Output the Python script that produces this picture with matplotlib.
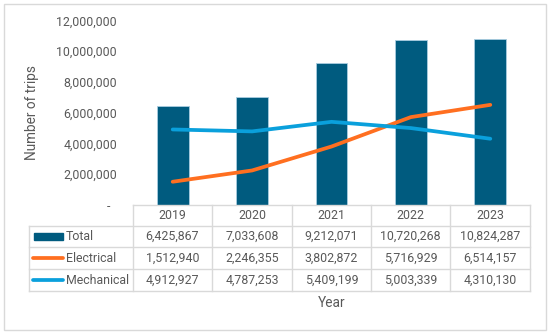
import matplotlib.pyplot as plt
from matplotlib.patches import Rectangle
from matplotlib.lines import Line2D

# --- Data ---
years = ["2019", "2020", "2021", "2022", "2023"]
total = [6425867, 7033608, 9212071, 10720268, 10824287]
electrical = [1512940, 2246355, 3802872, 5716929, 6514157]
mechanical = [4912927, 4787253, 5409199, 5003339, 4310130]
series_names = ["Total", "Electrical", "Mechanical"]

c_total = "#005B7F"
c_elec = "#FF6F20"
c_mech = "#0AA0DC"
c_text = "#595959"
c_grid = "#D9D9D9"

plt.rcParams['font.family'] = ['Roboto', 'DejaVu Sans']
fs = 8.9

W, H = 550, 335
fig = plt.figure(figsize=(W / 100, H / 100), dpi=100)

def fx(px):
    return px / W

def fy(py):
    return 1 - py / H

# plot area in pixels
L, R_, T, B = 133, 530, 20.5, 205
ax = fig.add_axes([fx(L), fy(B), fx(R_) - fx(L), fy(T) - fy(B)])

x = list(range(len(years)))
ax.bar(x, total, width=0.4, color=c_total, edgecolor="#A9CDE0", linewidth=0.6, zorder=2)
ax.plot(x, electrical, color=c_elec, lw=2.7, solid_capstyle="round", zorder=3)
ax.plot(x, mechanical, color=c_mech, lw=2.7, solid_capstyle="round", zorder=3)

ax.set_xlim(-0.5, len(years) - 0.5)
ax.set_ylim(0, 12000000)
ax.set_yticks(range(0, 12000001, 2000000))
ax.set_yticklabels(["-  "] + [f"{v:,}" for v in range(2000000, 12000001, 2000000)])
ax.tick_params(axis="y", length=0, pad=11.5, labelsize=fs, labelcolor=c_text)
ax.tick_params(axis="x", length=0, labelbottom=False)
for s in ax.spines.values():
    s.set_visible(False)
fig.text(fx(32), fy(113), "Number of trips", rotation=90, fontsize=9.8,
         color=c_text, ha="center", va="center")

# --- Data table drawn under the axis ---
rows_px = [205, 225.5, 247.3, 269.3, 290.7]
cols_px = [29.3, 132.7, 212.3, 291.7, 371, 450.3, 529.7]
lkw = dict(color=c_grid, lw=1.0, transform=fig.transFigure, clip_on=False)

# header row (years) only over the data columns
fig.add_artist(Line2D([fx(cols_px[1]), fx(cols_px[-1])], [fy(rows_px[0])] * 2, **lkw))
for py in rows_px[1:]:
    fig.add_artist(Line2D([fx(cols_px[0]), fx(cols_px[-1])], [fy(py)] * 2, **lkw))
for i, px in enumerate(cols_px):
    top = rows_px[1] if i == 0 else rows_px[0]
    fig.add_artist(Line2D([fx(px)] * 2, [fy(top), fy(rows_px[-1])], **lkw))

tkw = dict(fontsize=fs, color=c_text, ha="center", va="center")
for j, yr in enumerate(years):
    cx = fx((cols_px[j + 1] + cols_px[j + 2]) / 2)
    fig.text(cx, fy((rows_px[0] + rows_px[1]) / 2), yr, **tkw)
    for r, vals in enumerate([total, electrical, mechanical]):
        cy = fy((rows_px[r + 1] + rows_px[r + 2]) / 2)
        fig.text(cx, cy, f"{vals[j]:,}", **tkw)

# legend keys in the first column
for r, name in enumerate(series_names):
    cy = (rows_px[r + 1] + rows_px[r + 2]) / 2
    if r == 0:
        fig.add_artist(Rectangle((fx(34), fy(cy + 3.5)), fx(63) - fx(34), fy(cy - 3.5) - fy(cy + 3.5),
                                 color=c_total, transform=fig.transFigure))
    else:
        col = c_elec if r == 1 else c_mech
        fig.add_artist(Line2D([fx(33), fx(63)], [fy(cy)] * 2, color=col, lw=2.7,
                              solid_capstyle="round", transform=fig.transFigure))
    fig.text(fx(66), fy(cy), name, fontsize=fs, color=c_text, ha="left", va="center")

fig.text(fx(332), fy(303), "Year", fontsize=9.8, color=c_text, ha="center", va="center")

# chart border
fig.add_artist(Rectangle((fx(3.5), fy(330)), fx(546) - fx(3.5), fy(4) - fy(330),
                         fill=False, edgecolor=c_grid, lw=1.0, transform=fig.transFigure))

fig.savefig("out.png", dpi=100)
